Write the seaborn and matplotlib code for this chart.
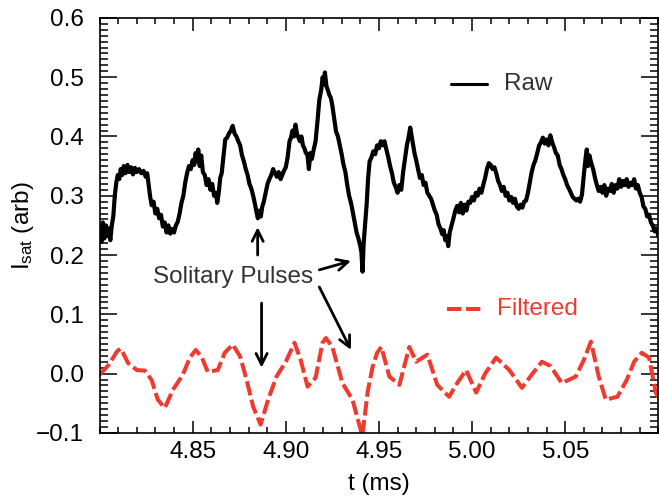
import numpy as np
import pandas as pd
import matplotlib
matplotlib.use("Agg")
import matplotlib.pyplot as plt
import seaborn as sns
from matplotlib.ticker import MultipleLocator, FormatStrFormatter

# Raw ion saturation current trace (time in ms, I_sat in arbitrary units)
raw_t = [4.8000, 4.8010, 4.8018, 4.8026, 4.8034, 4.8042, 4.8050, 4.8058, 4.8066, 4.8074,
         4.8082, 4.8090, 4.8098, 4.8106, 4.8114, 4.8122, 4.8130, 4.8140, 4.8150, 4.8160,
         4.8170, 4.8180, 4.8190, 4.8200, 4.8212, 4.8224, 4.8236, 4.8248, 4.8256, 4.8264,
         4.8272, 4.8280, 4.8290, 4.8300, 4.8310, 4.8320, 4.8330, 4.8340, 4.8350, 4.8360,
         4.8370, 4.8380, 4.8390, 4.8400, 4.8410, 4.8420, 4.8430, 4.8440, 4.8450, 4.8460,
         4.8470, 4.8480, 4.8490, 4.8500, 4.8508, 4.8516, 4.8524, 4.8530, 4.8538, 4.8546,
         4.8555, 4.8565, 4.8575, 4.8585, 4.8595, 4.8605, 4.8615, 4.8625, 4.8632, 4.8640,
         4.8648, 4.8656, 4.8665, 4.8675, 4.8685, 4.8695, 4.8705, 4.8715, 4.8725, 4.8735,
         4.8745, 4.8755, 4.8765, 4.8775, 4.8785, 4.8795, 4.8805, 4.8815, 4.8825, 4.8835,
         4.8843, 4.8850, 4.8858, 4.8866, 4.8874, 4.8882, 4.8892, 4.8902, 4.8912, 4.8922,
         4.8932, 4.8942, 4.8952, 4.8962, 4.8972, 4.8980, 4.8990, 4.9000, 4.9010, 4.9020,
         4.9028, 4.9036, 4.9044, 4.9052, 4.9060, 4.9068, 4.9076, 4.9084, 4.9092, 4.9100,
         4.9108, 4.9116, 4.9124, 4.9132, 4.9140, 4.9150, 4.9160, 4.9170, 4.9180, 4.9190,
         4.9198, 4.9204, 4.9210, 4.9218, 4.9226, 4.9234, 4.9242, 4.9250, 4.9260, 4.9270,
         4.9280, 4.9290, 4.9300, 4.9310, 4.9320, 4.9330, 4.9340, 4.9350, 4.9360, 4.9370,
         4.9380, 4.9390, 4.9400, 4.9406, 4.9412, 4.9418, 4.9426, 4.9434, 4.9442, 4.9450,
         4.9460, 4.9470, 4.9480, 4.9490, 4.9500, 4.9510, 4.9520, 4.9530, 4.9540, 4.9550,
         4.9560, 4.9570, 4.9580, 4.9590, 4.9600, 4.9610, 4.9620, 4.9630, 4.9640, 4.9650,
         4.9660, 4.9668, 4.9676, 4.9684, 4.9692, 4.9700, 4.9710, 4.9720, 4.9730, 4.9740,
         4.9750, 4.9760, 4.9770, 4.9780, 4.9790, 4.9800, 4.9810, 4.9820, 4.9830, 4.9840,
         4.9848, 4.9856, 4.9864, 4.9872, 4.9880, 4.9890, 4.9900, 4.9910, 4.9920, 4.9930,
         4.9940, 4.9950, 4.9960, 4.9970, 4.9980, 4.9990, 5.0000, 5.0010, 5.0020, 5.0030,
         5.0040, 5.0050, 5.0060, 5.0070, 5.0080, 5.0090, 5.0100, 5.0110, 5.0120, 5.0130,
         5.0140, 5.0150, 5.0160, 5.0170, 5.0180, 5.0190, 5.0200, 5.0210, 5.0220, 5.0230,
         5.0240, 5.0250, 5.0260, 5.0270, 5.0280, 5.0290, 5.0300, 5.0310, 5.0320, 5.0330,
         5.0340, 5.0350, 5.0360, 5.0370, 5.0380, 5.0390, 5.0400, 5.0410, 5.0420, 5.0430,
         5.0440, 5.0450, 5.0460, 5.0470, 5.0480, 5.0490, 5.0500, 5.0510, 5.0520, 5.0530,
         5.0540, 5.0550, 5.0560, 5.0570, 5.0580, 5.0590, 5.0600, 5.0610, 5.0616, 5.0622,
         5.0630, 5.0640, 5.0650, 5.0660, 5.0670, 5.0680, 5.0690, 5.0700, 5.0710, 5.0720,
         5.0730, 5.0740, 5.0750, 5.0760, 5.0770, 5.0780, 5.0790, 5.0800, 5.0810, 5.0820,
         5.0830, 5.0840, 5.0850, 5.0860, 5.0870, 5.0880, 5.0890, 5.0900, 5.0910, 5.0920,
         5.0930, 5.0940, 5.0950, 5.0960, 5.0970, 5.0980, 5.0990, 5.1000]
raw_isat = [0.240, 0.222, 0.255, 0.228, 0.250, 0.232, 0.245, 0.225, 0.250, 0.265,
            0.300, 0.322, 0.335, 0.328, 0.345, 0.335, 0.350, 0.338, 0.352, 0.340,
            0.348, 0.336, 0.347, 0.340, 0.345, 0.338, 0.342, 0.332, 0.338, 0.318,
            0.298, 0.284, 0.290, 0.270, 0.278, 0.262, 0.268, 0.248, 0.255, 0.238,
            0.250, 0.236, 0.244, 0.238, 0.250, 0.256, 0.270, 0.288, 0.300, 0.322,
            0.338, 0.350, 0.345, 0.360, 0.352, 0.372, 0.358, 0.378, 0.350, 0.368,
            0.340, 0.335, 0.318, 0.328, 0.310, 0.320, 0.300, 0.305, 0.288, 0.305,
            0.330, 0.338, 0.365, 0.395, 0.398, 0.405, 0.410, 0.418, 0.405, 0.400,
            0.392, 0.385, 0.368, 0.358, 0.345, 0.335, 0.320, 0.312, 0.300, 0.285,
            0.272, 0.262, 0.275, 0.265, 0.282, 0.290, 0.305, 0.320, 0.328, 0.335,
            0.345, 0.338, 0.332, 0.340, 0.328, 0.334, 0.342, 0.348, 0.365, 0.392,
            0.398, 0.410, 0.400, 0.420, 0.405, 0.398, 0.392, 0.400, 0.385, 0.380,
            0.372, 0.370, 0.345, 0.372, 0.362, 0.378, 0.392, 0.425, 0.462, 0.478,
            0.500, 0.488, 0.508, 0.485, 0.478, 0.470, 0.465, 0.452, 0.430, 0.408,
            0.400, 0.385, 0.370, 0.352, 0.340, 0.318, 0.300, 0.288, 0.272, 0.255,
            0.238, 0.228, 0.215, 0.205, 0.172, 0.220, 0.252, 0.285, 0.330, 0.358,
            0.365, 0.375, 0.370, 0.385, 0.380, 0.392, 0.385, 0.392, 0.378, 0.365,
            0.350, 0.338, 0.322, 0.315, 0.305, 0.318, 0.310, 0.340, 0.362, 0.385,
            0.400, 0.415, 0.400, 0.385, 0.370, 0.360, 0.345, 0.330, 0.335, 0.318,
            0.322, 0.305, 0.300, 0.295, 0.285, 0.275, 0.268, 0.252, 0.245, 0.235,
            0.242, 0.225, 0.232, 0.215, 0.238, 0.250, 0.262, 0.275, 0.283, 0.272,
            0.288, 0.270, 0.285, 0.275, 0.290, 0.288, 0.298, 0.292, 0.305, 0.300,
            0.312, 0.305, 0.318, 0.330, 0.345, 0.355, 0.352, 0.345, 0.348, 0.338,
            0.325, 0.318, 0.308, 0.315, 0.300, 0.305, 0.292, 0.298, 0.288, 0.295,
            0.282, 0.278, 0.285, 0.280, 0.290, 0.292, 0.305, 0.322, 0.340, 0.352,
            0.360, 0.372, 0.385, 0.390, 0.398, 0.388, 0.395, 0.385, 0.402, 0.390,
            0.382, 0.372, 0.368, 0.352, 0.345, 0.335, 0.328, 0.318, 0.312, 0.305,
            0.298, 0.295, 0.292, 0.295, 0.290, 0.302, 0.335, 0.365, 0.378, 0.350,
            0.368, 0.355, 0.345, 0.330, 0.318, 0.308, 0.315, 0.305, 0.318, 0.300,
            0.312, 0.308, 0.320, 0.305, 0.318, 0.312, 0.328, 0.315, 0.325, 0.318,
            0.328, 0.315, 0.322, 0.318, 0.328, 0.312, 0.318, 0.305, 0.298, 0.282,
            0.278, 0.265, 0.268, 0.255, 0.250, 0.240, 0.245, 0.232]

# Band-pass filtered version of the same signal
filt_t = [4.8000, 4.8050, 4.8095, 4.8115, 4.8153, 4.8200, 4.8244, 4.8280, 4.8313, 4.8350,
          4.8395, 4.8447, 4.8485, 4.8517, 4.8550, 4.8581, 4.8635, 4.8672, 4.8715, 4.8755,
          4.8790, 4.8825, 4.8865, 4.8905, 4.8950, 4.9000, 4.9047, 4.9080, 4.9117, 4.9160,
          4.9197, 4.9215, 4.9250, 4.9304, 4.9358, 4.9411, 4.9440, 4.9465, 4.9490, 4.9513,
          4.9556, 4.9610, 4.9663, 4.9700, 4.9760, 4.9813, 4.9877, 4.9920, 4.9968, 5.0022,
          5.0070, 5.0129, 5.0200, 5.0268, 5.0320, 5.0375, 5.0420, 5.0482, 5.0557, 5.0600,
          5.0638, 5.0680, 5.0718, 5.0780, 5.0830, 5.0870, 5.0911, 5.0950, 5.0986, 5.1000]
filt_isat = [-0.002, 0.015, 0.038, 0.042, 0.018, 0.006, 0.005, -0.011, -0.044, -0.058,
             -0.027, -0.002, 0.027, 0.040, 0.027, 0.003, 0.006, 0.035, 0.049, 0.029,
             -0.011, -0.056, -0.086, -0.044, -0.005, 0.020, 0.052, 0.023, -0.022, -0.007,
             0.052, 0.060, 0.045, -0.016, -0.044, -0.105, -0.030, 0.010, 0.035, 0.045,
             -0.005, -0.019, 0.045, 0.020, 0.032, -0.019, -0.039, -0.016, 0.006, -0.032,
             0.000, 0.027, 0.006, -0.024, -0.002, 0.020, 0.013, -0.016, -0.005, 0.023,
             0.054, -0.005, -0.044, -0.039, -0.011, 0.020, 0.035, 0.027, -0.032, -0.040]

x_ticks = [4.85, 4.90, 4.95, 5.00, 5.05]
y_ticks = [-0.1, 0.0, 0.1, 0.2, 0.3, 0.4, 0.5, 0.6]
y_tick_labels = ["\u22120.1", "0.0", "0.1", "0.2", "0.3", "0.4", "0.5", "0.6"]

RED = "#f03a2e"
FS = 17.5

sns.set_theme(style="ticks")
plt.rcParams["font.family"] = ["Liberation Sans", "DejaVu Sans"]
plt.rcParams["mathtext.fontset"] = "custom"
plt.rcParams["mathtext.rm"] = "Liberation Sans"

fig = plt.figure(figsize=(6.59, 4.97), dpi=100)
ax = fig.add_axes([0.151, 0.129, 0.848, 0.835])

raw_df = pd.DataFrame({"t": raw_t, "isat": raw_isat})
filt_df = pd.DataFrame({"t": filt_t, "isat": filt_isat})

sns.lineplot(data=raw_df, x="t", y="isat", ax=ax, color="black", lw=3.0,
             sort=False, estimator=None)
sns.lineplot(data=filt_df, x="t", y="isat", ax=ax, color=RED, lw=2.9,
             sort=False, estimator=None, linestyle=(0, (3.6, 1.1)))

ax.set_xlim(4.80, 5.10)
ax.set_ylim(-0.1, 0.6)
ax.set_xticks(x_ticks)
ax.set_yticks(y_ticks)
ax.xaxis.set_major_formatter(FormatStrFormatter("%.2f"))
ax.set_yticklabels(y_tick_labels)
ax.xaxis.set_minor_locator(MultipleLocator(0.01))
ax.yaxis.set_minor_locator(MultipleLocator(0.01))
ax.tick_params(axis="both", which="both", direction="in", top=True, right=True,
               colors="black", labelsize=FS, width=1.1)
ax.tick_params(axis="x", which="major", length=9, pad=6)
ax.tick_params(axis="x", which="minor", length=4.5)
ax.tick_params(axis="y", which="major", length=12, pad=11)
ax.tick_params(axis="y", which="minor", length=6)
for s in ax.spines.values():
    s.set_linewidth(1.2)
    s.set_color("black")

ax.set_xlabel("t (ms)", fontsize=FS, labelpad=7, color="black")
ax.set_ylabel(r"$\mathregular{I_{sat}}$ (arb)", fontsize=FS, labelpad=0, color="black")

# In-plot key
ax.plot([4.9888, 5.0081], [0.489, 0.489], color="black", lw=2.2)
ax.text(5.0172, 0.489, "Raw", fontsize=FS, color="#333333", va="center", ha="left")
ax.plot([4.9867, 5.0065], [0.109, 0.109], color=RED, lw=2.9, linestyle=(0, (3.6, 1.1)))
ax.text(5.0134, 0.109, "Filtered", fontsize=FS, color=RED, va="center", ha="left")

# Annotation of the pulses
ax.text(4.8716, 0.163, "Solitary Pulses", fontsize=FS, color="#333333",
        ha="center", va="center")
arrow = dict(arrowstyle="->", lw=2.0, color="black", mutation_scale=20,
             shrinkA=0, shrinkB=0)
ax.annotate("", xy=(4.8849, 0.247), xytext=(4.8849, 0.200), arrowprops=arrow)
ax.annotate("", xy=(4.9350, 0.190), xytext=(4.9180, 0.175), arrowprops=arrow)
ax.annotate("", xy=(4.8870, 0.010), xytext=(4.8870, 0.119), arrowprops=arrow)
ax.annotate("", xy=(4.9350, 0.040), xytext=(4.9180, 0.146), arrowprops=arrow)

fig.savefig("out.png", dpi=100)
